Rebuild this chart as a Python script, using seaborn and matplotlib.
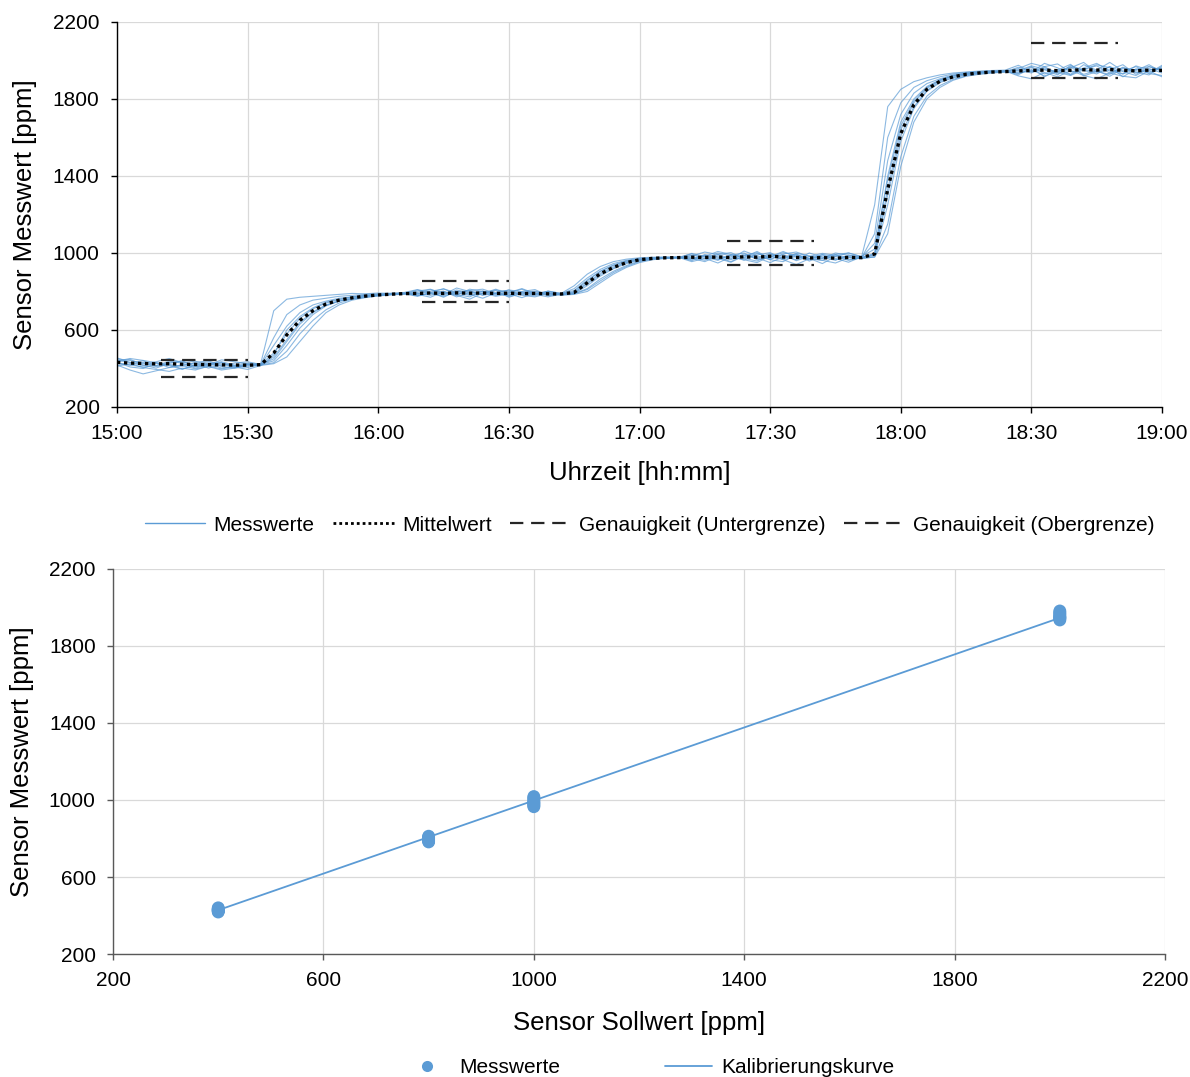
import numpy as np
import pandas as pd
import matplotlib
matplotlib.use("Agg")
import matplotlib.pyplot as plt
import seaborn as sns
from matplotlib.lines import Line2D

# ---------------- data (top chart) ----------------
sample_step_min = 3  # minutes between samples, starting 15:00
time_ticks = [0, 30, 60, 90, 120, 150, 180, 210, 240]
time_tick_labels = ["15:00", "15:30", "16:00", "16:30", "17:00", "17:30", "18:00", "18:30", "19:00"]

sensor_01 = [445, 430, 440, 415, 428, 438, 410, 425, 435, 418, 428,
             425, 700, 760, 770, 775, 780, 785, 790, 788, 792, 790, 795,
             810, 795, 815, 785, 805, 812, 790, 808, 798, 785, 802,
             790, 830, 890, 930, 955, 968, 975, 978, 980, 978,
             995, 970, 1000, 985, 962, 998, 980, 1008, 978, 965, 992, 982, 1000,
             980, 1250, 1760, 1850, 1890, 1910, 1925, 1935, 1940, 1945, 1948, 1950,
             1975, 1940, 1985, 1962, 1928, 1978, 1950, 1990, 1945, 1968, 1935, 1975]
sensor_02 = [432, 408, 400, 428, 415, 395, 422, 435, 410, 402, 418,
             420, 560, 680, 730, 755, 765, 775, 780, 785, 788, 790, 792,
             778, 795, 770, 802, 785, 765, 792, 808, 780, 772, 790,
             788, 815, 870, 915, 945, 962, 972, 975, 977, 980,
             960, 988, 972, 952, 985, 1002, 965, 955, 992, 972, 945, 982, 962,
             975, 1100, 1600, 1780, 1860, 1895, 1915, 1930, 1938, 1942, 1945, 1947,
             1925, 1965, 1915, 1950, 1980, 1920, 1942, 1968, 1915, 1955, 1932, 1922]
sensor_03 = [450, 442, 425, 435, 452, 430, 438, 418, 445, 435, 425,
             418, 520, 620, 690, 730, 750, 765, 772, 780, 785, 790, 788,
             802, 812, 785, 818, 800, 790, 812, 782, 800, 810, 778,
             785, 800, 855, 905, 935, 958, 968, 974, 976, 975,
             985, 1005, 992, 970, 1010, 985, 965, 995, 1005, 982, 972, 1000, 988,
             978, 1050, 1480, 1720, 1830, 1880, 1905, 1925, 1935, 1940, 1944, 1946,
             1958, 1985, 1968, 1930, 1962, 1990, 1938, 1952, 1978, 1928, 1968, 1950]
sensor_04 = [418, 392, 372, 388, 405, 415, 398, 410, 392, 402, 412,
             422, 480, 580, 660, 710, 740, 758, 770, 778, 783, 787, 790,
             785, 770, 800, 780, 760, 792, 775, 788, 768, 792, 780,
             790, 795, 845, 895, 928, 952, 966, 972, 975, 977,
             955, 972, 948, 980, 965, 950, 985, 965, 940, 970, 962, 948, 975,
             972, 1000, 1400, 1680, 1800, 1865, 1900, 1920, 1932, 1938, 1942, 1945,
             1920, 1905, 1938, 1915, 1948, 1922, 1905, 1935, 1918, 1910, 1945, 1915]
sensor_05 = [435, 448, 418, 402, 428, 440, 410, 415, 428, 405, 420,
             415, 460, 550, 640, 695, 730, 752, 765, 775, 781, 786, 789,
             795, 810, 792, 780, 812, 800, 785, 795, 815, 790, 800,
             782, 790, 830, 880, 918, 945, 962, 970, 974, 976,
             978, 962, 992, 1002, 972, 958, 992, 982, 965, 1000, 978, 962, 990,
             976, 990, 1330, 1640, 1780, 1855, 1895, 1918, 1930, 1936, 1940, 1944,
             1952, 1935, 1968, 1982, 1940, 1955, 1972, 1935, 1962, 1948, 1978, 1940]
sensor_06 = [455, 432, 415, 430, 405, 420, 428, 402, 420, 415, 405,
             420, 440, 520, 610, 680, 725, 750, 763, 772, 780, 785, 788,
             775, 792, 802, 772, 795, 782, 805, 770, 792, 785, 772,
             786, 788, 815, 865, 905, 935, 958, 968, 973, 975,
             972, 955, 985, 965, 995, 975, 950, 980, 995, 958, 985, 972, 952,
             980, 985, 1250, 1580, 1750, 1840, 1885, 1910, 1925, 1935, 1940, 1942,
             1940, 1968, 1930, 1952, 1925, 1962, 1985, 1945, 1930, 1972, 1950, 1962]
sensor_07 = [425, 418, 432, 410, 420, 398, 415, 428, 402, 412, 420,
             418, 430, 490, 580, 650, 705, 740, 760, 770, 778, 785, 790,
             808, 788, 780, 808, 792, 802, 780, 792, 812, 785, 795,
             780, 785, 800, 845, 890, 925, 950, 965, 972, 976,
             988, 978, 962, 992, 978, 1008, 970, 992, 960, 982, 998, 988, 978,
             970, 980, 1150, 1500, 1710, 1815, 1870, 1902, 1920, 1930, 1936, 1940,
             1935, 1952, 1920, 1942, 1965, 1928, 1948, 1918, 1958, 1940, 1925, 1970]
sensor_08 = [412, 425, 405, 395, 385, 402, 392, 412, 398, 408, 395,
             416, 425, 460, 540, 620, 690, 730, 755, 768, 777, 782, 786,
             790, 780, 795, 785, 772, 802, 790, 778, 795, 802, 785,
             785, 788, 810, 855, 898, 930, 955, 968, 974, 977,
             965, 992, 978, 955, 988, 972, 998, 965, 982, 970, 992, 965, 982,
             974, 978, 1100, 1450, 1680, 1800, 1860, 1897, 1918, 1928, 1935, 1940,
             1965, 1942, 1952, 1925, 1975, 1948, 1930, 1968, 1942, 1922, 1958, 1935]
sensor_09 = [438, 452, 442, 430, 420, 412, 432, 440, 415, 428, 435,
             420, 450, 540, 630, 690, 728, 750, 762, 774, 780, 784, 788,
             788, 802, 812, 795, 780, 792, 808, 800, 785, 778, 802,
             790, 805, 860, 905, 938, 958, 968, 973, 976, 974,
             998, 982, 1008, 992, 975, 990, 1002, 970, 998, 985, 972, 992, 1000,
             982, 1020, 1380, 1660, 1790, 1860, 1898, 1920, 1931, 1937, 1941, 1944,
             1948, 1972, 1955, 1940, 1968, 1952, 1978, 1962, 1930, 1955, 1968, 1948]
sensor_10 = [430, 418, 408, 415, 438, 428, 402, 420, 432, 412, 422,
             415, 470, 600, 670, 715, 745, 760, 772, 780, 784, 788, 791,
             778, 790, 775, 798, 805, 780, 792, 775, 788, 798, 790,
             784, 792, 840, 888, 922, 950, 964, 972, 975, 978,
             972, 985, 965, 988, 1000, 965, 978, 1002, 988, 972, 962, 992, 965,
             975, 995, 1300, 1610, 1760, 1845, 1890, 1912, 1927, 1934, 1939, 1943,
             1932, 1948, 1962, 1938, 1922, 1952, 1942, 1928, 1965, 1938, 1950, 1958]

mittelwert = [432, 428, 426, 424, 425, 422, 421, 420, 419, 418, 417,
              420, 480, 575, 650, 700, 735, 755, 767, 776, 782, 786, 789,
              790, 792, 790, 793, 791, 792, 790, 791, 789, 790, 788,
              787, 795, 845, 892, 925, 950, 965, 972, 975, 976,
              978, 977, 979, 976, 980, 978, 983, 979, 977, 974, 976, 973, 977,
              976, 995, 1330, 1620, 1770, 1850, 1892, 1915, 1928, 1935, 1940, 1942,
              1946, 1948, 1950, 1947, 1949, 1952, 1950, 1953, 1949, 1946, 1950, 1948]

genau_start = [10, 70, 140, 210]     # minutes after 15:00
genau_end = [30, 90, 160, 230]
genau_unter = [358, 746, 940, 1910]
genau_ober = [442, 854, 1060, 2090]

# ---------------- data (bottom chart) ----------------
soll_400 = [400] * 10
mess_400 = [418, 422, 425, 428, 430, 433, 436, 440, 424, 431]
soll_800 = [800] * 10
mess_800 = [782, 786, 790, 795, 800, 805, 808, 812, 792, 798]
soll_1000 = [1000] * 10
mess_1000 = [965, 970, 975, 982, 990, 998, 1005, 1012, 1018, 985]
soll_2000 = [2000] * 10
mess_2000 = [1935, 1940, 1945, 1950, 1955, 1962, 1968, 1975, 1982, 1948]
kalib_x = [400, 2000]
kalib_y = [428, 1946]

# ---------------- build frames ----------------
sensors = [sensor_01, sensor_02, sensor_03, sensor_04, sensor_05,
           sensor_06, sensor_07, sensor_08, sensor_09, sensor_10]
rows = []
for k, s in enumerate(sensors):
    for i, v in enumerate(s):
        rows.append({"t": i * sample_step_min, "ppm": v, "sensor": k})
df = pd.DataFrame(rows)
df_mean = pd.DataFrame({"t": np.arange(len(mittelwert)) * sample_step_min, "ppm": mittelwert})

df_scatter = pd.DataFrame({
    "soll": soll_400 + soll_800 + soll_1000 + soll_2000,
    "mess": mess_400 + mess_800 + mess_1000 + mess_2000,
})
df_kal = pd.DataFrame({"soll": kalib_x, "mess": kalib_y})

# ---------------- style ----------------
sns.set_theme(style="white")
plt.rcParams["font.family"] = ["Liberation Sans", "DejaVu Sans"]
plt.rcParams["text.color"] = "black"
plt.rcParams["axes.labelcolor"] = "black"

fig = plt.figure(figsize=(11.9, 10.77), dpi=100)
ax1 = fig.add_axes([0.0983, 0.6221, 0.8782, 0.3575])
ax2 = fig.add_axes([0.0950, 0.1142, 0.8840, 0.3575])

grid_c = "#D9D9D9"
trace_c = "#5B9BD5"
dot_style = (0, (1.0, 1.1))
dash_style = (6, 3.5)

# --- top chart ---
sns.lineplot(data=df, x="t", y="ppm", units="sensor", estimator=None,
             color=trace_c, linewidth=0.8, alpha=0.7, ax=ax1, legend=False)
sns.lineplot(data=df_mean, x="t", y="ppm", color="black", linewidth=2.4,
             ax=ax1, legend=False)
ax1.lines[-1].set_linestyle(dot_style)
ax1.lines[-1].set_dash_capstyle("butt")
for s, e, lo, hi in zip(genau_start, genau_end, genau_unter, genau_ober):
    ax1.plot([s, e], [lo, lo], color="#262626", lw=1.6, dashes=dash_style)
    ax1.plot([s, e], [hi, hi], color="#262626", lw=1.6, dashes=dash_style)

ax1.set_xlim(0, 240)
ax1.set_ylim(200, 2200)
ax1.set_xticks(time_ticks)
ax1.set_xticklabels(time_tick_labels)
ax1.set_yticks([200, 600, 1000, 1400, 1800, 2200])
ax1.set_xlabel("Uhrzeit [hh:mm]", fontsize=18.5, labelpad=13)
ax1.set_ylabel("Sensor Messwert [ppm]", fontsize=18.5, labelpad=11)

# --- bottom chart ---
sns.lineplot(data=df_kal, x="soll", y="mess", color=trace_c, linewidth=1.3,
             ax=ax2, legend=False)
sns.scatterplot(data=df_scatter, x="soll", y="mess", color=trace_c, s=85,
                edgecolor="none", ax=ax2, legend=False, zorder=3)
ax2.set_xlim(200, 2200)
ax2.set_ylim(200, 2200)
ax2.set_xticks([200, 600, 1000, 1400, 1800, 2200])
ax2.set_yticks([200, 600, 1000, 1400, 1800, 2200])
ax2.set_xlabel("Sensor Sollwert [ppm]", fontsize=18.5, labelpad=15)
ax2.set_ylabel("Sensor Messwert [ppm]", fontsize=18.5, labelpad=11)

for ax, sc in ((ax1, "black"), (ax2, "#595959")):
    ax.grid(True, color=grid_c, linewidth=0.9)
    ax.set_axisbelow(True)
    for sp in ("top", "right"):
        ax.spines[sp].set_visible(False)
    for sp in ("left", "bottom"):
        ax.spines[sp].set_color(sc)
        ax.spines[sp].set_linewidth(1.0)
    ax.tick_params(axis="both", which="major", labelsize=15, length=4,
                   width=1.0, color=sc, direction="out", pad=8.5,
                   left=True, bottom=True, labelcolor="black")

# --- legends ---
h_top = [
    Line2D([], [], color=trace_c, lw=1.0),
    Line2D([], [], color="black", lw=2.0, linestyle=dot_style, dash_capstyle="butt"),
    Line2D([], [], color="#262626", lw=1.6, dashes=dash_style),
    Line2D([], [], color="#262626", lw=1.6, dashes=dash_style),
]
l_top = ["Messwerte", "Mittelwert", "Genauigkeit (Untergrenze)", "Genauigkeit (Obergrenze)"]
fig.legend(h_top, l_top, loc="center", bbox_to_anchor=(0.546, 0.5125), ncol=4,
           frameon=False, fontsize=15, handlelength=2.9, columnspacing=0.9,
           handletextpad=0.4)

h_bot = [
    Line2D([], [], color=trace_c, marker="o", linestyle="none", markersize=8,
           markeredgecolor="none"),
    Line2D([], [], color=trace_c, lw=1.3),
]
l_bot = ["Messwerte", "Kalibrierungskurve"]
fig.legend(h_bot, l_bot, loc="center", bbox_to_anchor=(0.545, 0.0085), ncol=2,
           frameon=False, fontsize=15, handlelength=2.3, columnspacing=5.0,
           handletextpad=0.4)

fig.savefig("out.png", dpi=100)
